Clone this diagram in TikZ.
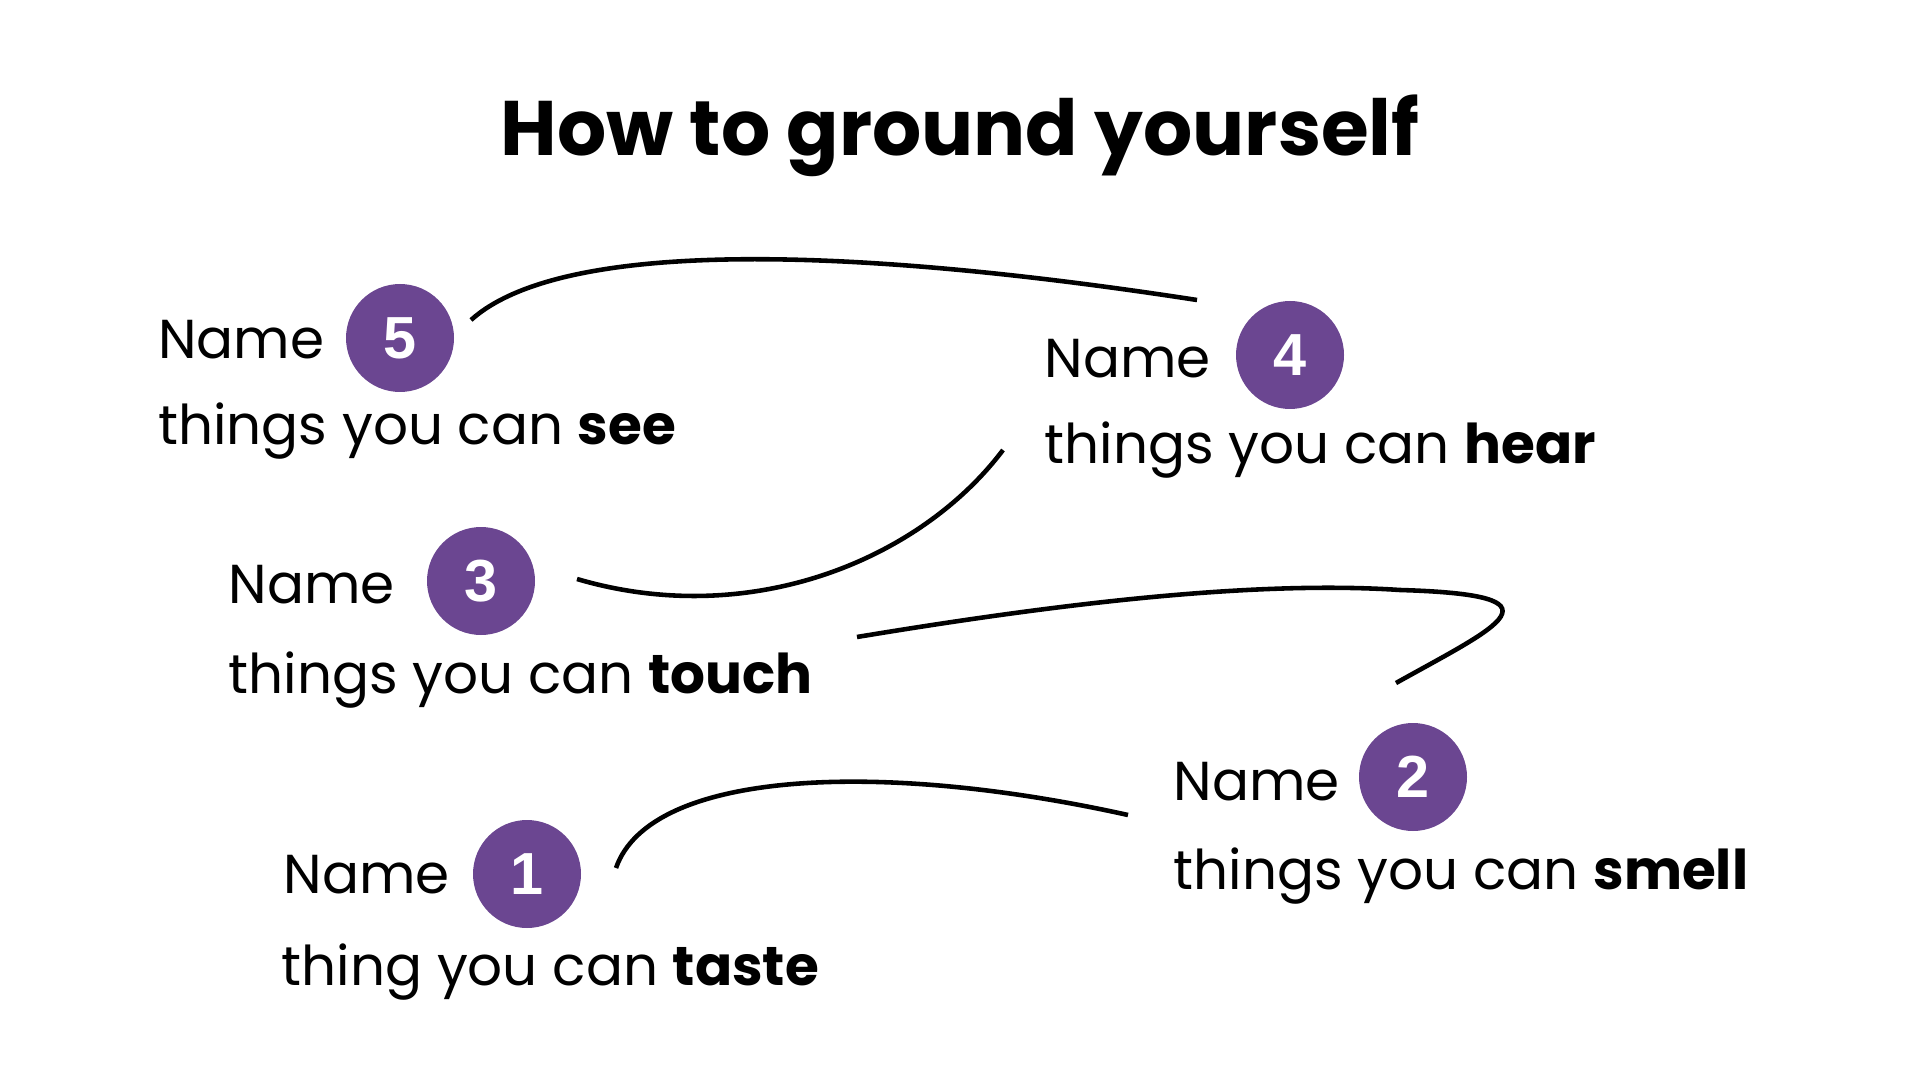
\documentclass[tikz,border=0pt]{standalone}
\usepackage{fontspec}
\setmainfont{Poppins}
\newfontfamily\digitfont{Liberation Sans}
\usepackage{xcolor}
\usepackage{tikz}
\usetikzlibrary{positioning}
\definecolor{mypurple}{RGB}{107,70,145}
\newcommand{\titlefont}{\fontsize{22}{26}\selectfont\bfseries}
\newcommand{\bodyfont}{\fontsize{15.6}{19}\selectfont}
\newcommand{\numfont}{\digitfont\fontsize{16.9}{20}\selectfont\bfseries}
\tikzset{
  lbl/.style={anchor=base west, inner sep=0pt, font=\bodyfont},
  num/.style={circle, fill=mypurple, draw=none, minimum size=1.08cm, inner sep=0pt, text=white, font=\numfont},
  link/.style={line width=1.3pt}
}

\begin{document}
\begin{tikzpicture}
\useasboundingbox (0,0) rectangle (19.2,-10.8);
\node[anchor=base, inner sep=0pt, font=\titlefont] (title) at (9.60,-1.56) {How to ground yourself};
% five
\node[lbl] (name5) at (1.575,-3.58) {Name};
\node[num] (c5) at (4.00,-3.38) {5};
\node[lbl] (line5) at (1.575,-4.45) {things you can \textbf{see}};
% four
\node[lbl] (name4) at (10.44,-3.77) {Name};
\node[num] (c4) at (12.90,-3.55) {4};
\node[lbl] (line4) at (10.44,-4.63) {things you can \textbf{hear}};
% three
\node[lbl] (name3) at (2.28,-6.03) {Name};
\node[num] (c3) at (4.81,-5.81) {3};
\node[lbl] (line3) at (2.28,-6.93) {things you can \textbf{touch}};
% two
\node[lbl] (name2) at (11.73,-8.00) {Name};
\node[num] (c2) at (14.13,-7.77) {2};
\node[lbl] (line2) at (11.73,-8.89) {things you can \textbf{smell}};
% one
\node[lbl] (name1) at (2.83,-8.93) {Name};
\node[num] (c1) at (5.27,-8.74) {1};
\node[lbl] (line1) at (2.81,-9.85) {thing you can \textbf{taste}};
% curve ends
\coordinate (a5) at (4.71,-3.20);
\coordinate (b4) at (11.97,-3.00);
\coordinate (a4) at (10.03,-4.50);
\coordinate (b3) at (5.77,-5.79);
\coordinate (a3) at (8.57,-6.37);
\coordinate (m3) at (14.00,-5.90);
\coordinate (b2) at (13.96,-6.83);
\coordinate (a2) at (11.28,-8.15);
\coordinate (b1) at (6.16,-8.68);
% curves
\draw[link] (a5) .. controls (5.60,-2.40) and (8.40,-2.45) .. (b4);
\draw[link] (a4) .. controls (9.20,-5.60) and (7.50,-6.30) .. (b3);
\draw[link] (a3) .. controls (10.50,-6.05) and (12.50,-5.80) .. (m3)
  .. controls (15.70,-5.95) and (15.00,-6.25) .. (b2);
\draw[link] (a2) .. controls (8.80,-7.60) and (6.50,-7.70) .. (b1);
\end{tikzpicture}
\end{document}
